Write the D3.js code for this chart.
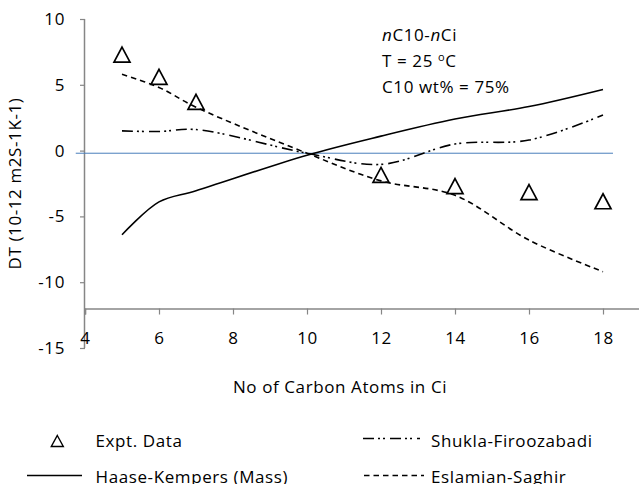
<!DOCTYPE html>
<html>
<head>
<meta charset="utf-8">
<script src="https://cdn.jsdelivr.net/npm/d3@7"></script>
<style>
  body { margin: 0; background: #fff; }
  svg { display: block; font-family: "Open Sans", Lato, sans-serif; }
</style>
</head>
<body>
<div id="chart"></div>
<script>
// DT vs number of carbon atoms, nC10-nCi mixtures

// Data
const modelX = [5, 6, 7, 10, 12, 14, 16, 18];
const haaseKempers = [-6.4, -3.9, -3.05, -0.35, 1.1, 2.4, 3.35, 4.65];
const shuklaFiroozabadi = [1.5, 1.45, 1.6, -0.2, -1.05, 0.5, 0.8, 2.7];
const eslamianSaghir = [5.8, 4.8, 3.3, -0.2, -2.3, -3.4, -6.8, -9.2];

const exptX = [5, 6, 7, 12, 14, 16, 18];
const exptData = [7.3, 5.6, 3.7, -1.85, -2.7, -3.15, -3.85];

// thin reference line drawn across the plot
const refLineX = [3.75, 18.27];
const refLineY = [-0.2, -0.2];

const xTicks = [4, 6, 8, 10, 12, 14, 16, 18];
const yTicks = [10, 5, 0, -5, -10, -15];
const notes = ["C10 wt% = 75%"];

const width = 639;
const height = 484;
const fontSize = "17px";

const svg = d3.select("#chart")
  .append("svg")
  .attr("width", width)
  .attr("height", height)
  .style("font-size", fontSize)
  .style("letter-spacing", "0.6px");

// scales
const x = d3.scaleLinear().domain([4, 20]).range([85, 677]);
const y = d3.scaleLinear().domain([-15, 10]).range([348, 19]);
const axisColor = "#868686";

// y axis (gray line, ticks out to the left)
const yAxis = svg.append("g")
  .attr("transform", "translate(" + x(4) + ",0)")
  .call(d3.axisLeft(y).tickValues(yTicks).tickSize(5).tickPadding(15).tickFormat(d => String(d)));
yAxis.select(".domain").attr("stroke", axisColor).attr("stroke-width", 1.5)
  .attr("d", "M-0.5," + y(10) + "V" + y(-15));
yAxis.selectAll(".tick line").attr("stroke", axisColor).attr("stroke-width", 1.2);
yAxis.selectAll(".tick text")
  .attr("fill", "#000")
  .style("font-size", fontSize)
  .style("font-family", "'Open Sans', sans-serif");

// x axis crosses at -12
const xAxis = svg.append("g")
  .attr("transform", "translate(0," + y(-12) + ")")
  .call(d3.axisBottom(x).tickValues(xTicks).tickSize(6).tickPadding(17).tickFormat(d => String(d)));
xAxis.select(".domain").attr("stroke", axisColor).attr("stroke-width", 1.5);
xAxis.selectAll(".tick line").attr("stroke", axisColor).attr("stroke-width", 1.2);
xAxis.selectAll(".tick text")
  .attr("fill", "#000")
  .style("font-size", fontSize)
  .style("font-family", "'Open Sans', sans-serif");

// axis titles
svg.append("text")
  .attr("transform", "translate(21," + (y(-15) + y(10)) / 2 + ") rotate(-90)")
  .attr("text-anchor", "middle")
  .text("DT (10-12 m2S-1K-1)");

svg.append("text")
  .attr("x", 340)
  .attr("y", 393)
  .attr("text-anchor", "middle")
  .text("No of Carbon Atoms in Ci");

// blue reference line
svg.append("path")
  .datum(d3.zip(refLineX, refLineY))
  .attr("fill", "none")
  .attr("stroke", "#4a7ebb")
  .attr("stroke-width", 1)
  .attr("d", d3.line().x(d => x(d[0])).y(d => y(d[1])));

// model curves
const series = [
  { name: "Haase-Kempers (Mass)", values: haaseKempers, dash: null },
  { name: "Shukla-Firoozabadi", values: shuklaFiroozabadi, dash: "11,4,2,3,2,5" },
  { name: "Eslamian-Saghir", values: eslamianSaghir, dash: "5.5,4" }
];

const line = d3.line()
  .x(d => x(d[0]))
  .y(d => y(d[1]))
  .curve(d3.curveCatmullRom.alpha(0.5));

svg.selectAll("path.model")
  .data(series)
  .join("path")
    .attr("class", "model")
    .attr("fill", "none")
    .attr("stroke", "#000")
    .attr("stroke-width", 1.6)
    .attr("stroke-dasharray", d => d.dash)
    .attr("d", d => line(d3.zip(modelX, d.values)));

// triangle markers, centred on the bounding box like Excel does
const tri = (cx, cy, w, h) =>
  "M" + cx + "," + (cy - h / 2) + "L" + (cx + w / 2) + "," + (cy + h / 2) +
  "L" + (cx - w / 2) + "," + (cy + h / 2) + "Z";

svg.selectAll("path.expt")
  .data(d3.zip(exptX, exptData))
  .join("path")
    .attr("class", "expt")
    .attr("fill", "none")
    .attr("stroke", "#000")
    .attr("stroke-width", 1.7)
    .attr("d", d => tri(x(d[0]), y(d[1]), 16, 15));

// annotation
const note = svg.append("g");
const n1 = note.append("text").attr("x", 382).attr("y", 41);
n1.append("tspan").style("font-style", "italic").text("n");
n1.append("tspan").text("C10-");
n1.append("tspan").style("font-style", "italic").text("n");
n1.append("tspan").text("Ci");

const n2 = note.append("text").attr("x", 382).attr("y", 67);
n2.append("tspan").text("T = 25 ");
n2.append("tspan").attr("dy", -6).style("font-size", "11px").text("o");
n2.append("tspan").attr("dy", 6).text("C");

note.selectAll("text.line3")
  .data(notes)
  .join("text")
    .attr("class", "line3")
    .attr("x", 382)
    .attr("y", 93)
    .text(d => d);

// legend
const legend = svg.append("g");

legend.append("path")
  .attr("fill", "none")
  .attr("stroke", "#000")
  .attr("stroke-width", 1.4)
  .attr("d", tri(57.3, 441, 12, 11));
legend.append("text").attr("x", 95.5).attr("y", 447).text("Expt. Data");

const legendItems = [
  { s: series[1], x1: 363, x2: 420, ty: 447, ly: 438.5, tx: 431 },
  { s: series[0], x1: 27, x2: 82, ty: 482.5, ly: 475.5, tx: 95.5 },
  { s: series[2], x1: 364, x2: 424, ty: 482.5, ly: 475.5, tx: 431 }
];

legendItems.forEach(d => {
  legend.append("line")
    .attr("x1", d.x1).attr("x2", d.x2)
    .attr("y1", d.ly).attr("y2", d.ly)
    .attr("stroke", "#000")
    .attr("stroke-width", 1.3)
    .attr("stroke-dasharray", d.s.dash);
  legend.append("text").attr("x", d.tx).attr("y", d.ty).text(d.s.name);
});
</script>
</body>
</html>
